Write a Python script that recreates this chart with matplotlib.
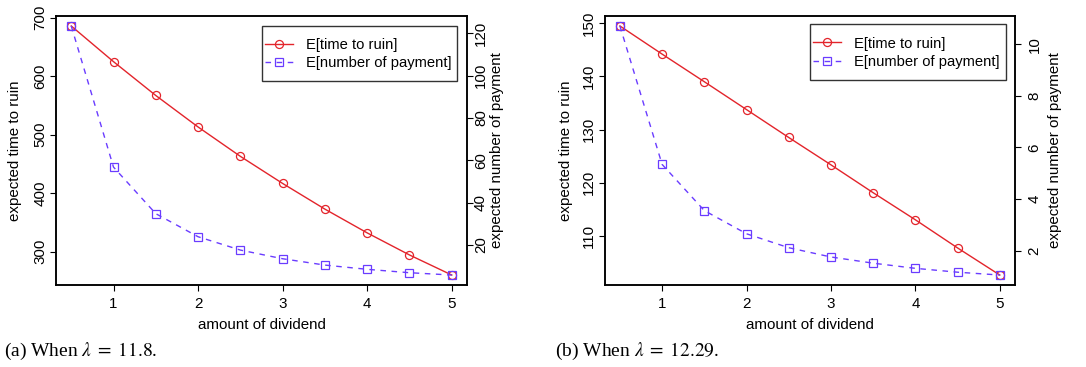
import matplotlib
matplotlib.use("Agg")
import matplotlib.pyplot as plt
from matplotlib.patches import Rectangle

plt.rcParams['font.family'] = ['Liberation Sans', 'DejaVu Sans']
plt.rcParams['mathtext.fontset'] = 'stix'
plt.rcParams['axes.spines.top'] = True
plt.rcParams['axes.spines.right'] = True

# ---------------- data ----------------
dividend = [0.5, 1, 1.5, 2, 2.5, 3, 3.5, 4, 4.5, 5]
time_a = [685.6, 624.6, 566.8, 513.0, 462.8, 416.5, 372.6, 332.0, 294.3, 260.0]
pay_a = [123.5, 56.8, 34.8, 23.9, 17.6, 13.5, 10.5, 8.5, 6.9, 5.8]
time_b = [149.5, 144.2, 139.0, 133.75, 128.5, 123.35, 118.1, 113.0, 107.7, 102.6]
pay_b = [10.71, 5.34, 3.55, 2.65, 2.11, 1.75, 1.51, 1.31, 1.16, 1.05]
x_ticks = [1, 2, 3, 4, 5]
left_ticks_a = [300, 400, 500, 600, 700]
right_ticks_a = [20, 40, 60, 80, 100, 120]
left_ticks_b = [110, 120, 130, 140, 150]
right_ticks_b = [2, 4, 6, 8, 10]
series_labels = ['E[time to ruin]', 'E[number of payment]']
xlabel = 'amount of dividend'
ylabel_left = 'expected time to ruin'
ylabel_right = 'expected number of payment'
captions = ['(a) When $\\lambda\\;=\\;11.8$.', '(b) When $\\lambda\\;=\\;12.29$.']

RED = '#e3242b'
BLUE = '#6a3cff'
FS = 10.9
LFS = 10.6
W, H = 1086, 367

fig = plt.figure(figsize=(W / 100, H / 100), dpi=100)


def px_rect(x0, x1, y0, y1):
    return [x0 / W, 1 - y1 / H, (x1 - x0) / W, (y1 - y0) / H]


def panel(rect, t, p, lt, rt, caption, cap_x, box, leg_anchor, ylab_l, ylab_r, rpad):
    ax = fig.add_axes(rect)
    ax.plot(dividend, t, color=RED, lw=1.0, marker='o', ms=5.8, mfc='none',
            mec=RED, mew=0.9, label=series_labels[0])
    ax.margins(x=0.04, y=0.04)
    ax.set_xticks(x_ticks)
    ax.set_yticks(lt)
    for lbl in ax.get_yticklabels():
        lbl.set_rotation(90)
        lbl.set_va('center')
    ax.tick_params(axis='both', direction='out', length=4, width=0.8,
                   labelsize=FS, colors='black')
    ax.tick_params(axis='x', pad=4.5)
    ax.tick_params(axis='y', pad=2)
    ax.set_xlabel(xlabel, fontsize=FS, va='center')
    ax.xaxis.set_label_coords(0.5, -0.1487)
    ax.set_ylabel(ylab_l[0], fontsize=FS, va='center')
    ax.yaxis.set_label_coords(ylab_l[1], 0.5)

    ax2 = ax.twinx()
    ax2.plot(dividend, p, color=BLUE, lw=1.0, ls=(0, (4, 4)), marker='s', ms=5.4,
             mfc='none', mec=BLUE, mew=0.9, label=series_labels[1])
    ax2.margins(x=0.04, y=0.04)
    ax2.set_yticks(rt)
    for lbl in ax2.get_yticklabels():
        lbl.set_rotation(90)
        lbl.set_va('center')
    ax2.tick_params(axis='y', direction='out', length=4, width=0.8,
                    labelsize=FS, pad=rpad)
    ax2.set_ylabel(ylab_r[0], fontsize=FS, va='center')
    ax2.yaxis.set_label_coords(ylab_r[1], 0.5)

    for a in (ax, ax2):
        for s in a.spines.values():
            s.set_visible(True)
            s.set_linewidth(1.1)
            s.set_color('black')
            s.set_zorder(10)

    # legend frame
    x0, x1, y0, y1 = box
    frame = Rectangle((x0, y0), x1 - x0, y1 - y0, transform=ax2.transAxes,
                      facecolor='white', edgecolor='#333333', lw=1.0, zorder=5)
    ax2.add_patch(frame)

    h1, l1 = ax.get_legend_handles_labels()
    h2, l2 = ax2.get_legend_handles_labels()
    leg = ax2.legend(h1 + h2, l1 + l2, loc='center left', bbox_to_anchor=leg_anchor,
                     borderaxespad=0, borderpad=0, fontsize=LFS, frameon=False,
                     handlelength=1.9, handletextpad=0.9, labelspacing=0.3,
                     numpoints=1)
    leg.set_zorder(6)

    fig.text(cap_x / W, 1 - 351 / H, caption, fontsize=14, family='Liberation Serif',
             ha='left', va='center')
    return ax, ax2


panel(px_rect(56, 467, 16, 285), time_a, pay_a, left_ticks_a, right_ticks_a,
      captions[0], 3.5, (0.5005, 0.9764, 0.7584, 0.964), (0.5085, 0.858),
      (ylabel_left, -0.0998), (ylabel_right, 1.0723), 1.0)
panel(px_rect(604.7, 1015, 16, 285), time_b, pay_b, left_ticks_b, right_ticks_b,
      captions[1], 554.7, (0.4996, 0.9773, 0.762, 0.969), (0.5077, 0.863),
      (ylabel_left, -0.0936), (ylabel_right, 1.0968), 5.0)

fig.savefig('out.png', dpi=100)
